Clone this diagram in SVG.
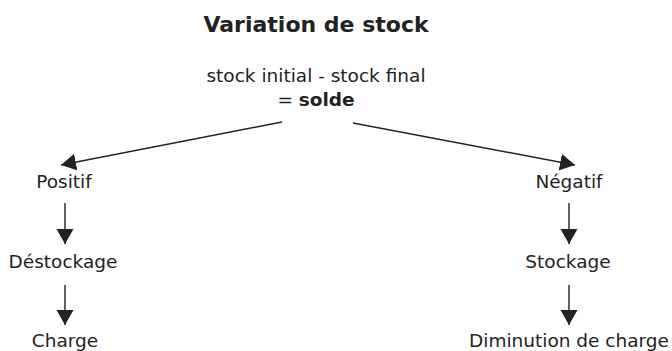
<svg xmlns="http://www.w3.org/2000/svg" width="672" height="351" viewBox="0 0 672 351">
<style>
text{font-family:"DejaVu Sans","Noto Sans","Liberation Sans",sans-serif;fill:#222;text-anchor:middle}
.t{font-size:22px;font-weight:bold}
.n{font-size:18.5px}
.c{stroke:#222;stroke-width:1.4;fill:none}
</style>
<defs>
<marker id="ah" markerUnits="userSpaceOnUse" markerWidth="16" markerHeight="18" refX="15" refY="8.5" orient="auto">
<path d="M0,0 L15,8.5 L0,17 Z" fill="#222"/>
</marker>
</defs>
<rect width="672" height="351" fill="#fff"/>
<text class="t" x="316" y="32">Variation de stock</text>
<g id="root">
<text class="n" x="316" y="82">stock initial - stock final</text>
<text class="n" x="316" y="106">= <tspan font-weight="bold">solde</tspan></text>
</g>
<g id="positif"><text class="n" x="64" y="188">Positif</text></g>
<g id="destockage"><text class="n" x="63" y="268">Déstockage</text></g>
<g id="charge"><text class="n" x="65" y="347">Charge</text></g>
<g id="negatif"><text class="n" x="569" y="188">Négatif</text></g>
<g id="stockage"><text class="n" x="568" y="268">Stockage</text></g>
<g id="diminution"><text class="n" x="569" y="347">Diminution de charge</text></g>
<g id="connectors">
<line class="c" x1="282" y1="122" x2="61" y2="165" marker-end="url(#ah)"/>
<line class="c" x1="353" y1="123" x2="575" y2="165" marker-end="url(#ah)"/>
<line class="c" x1="65" y1="203" x2="65" y2="244" marker-end="url(#ah)"/>
<line class="c" x1="65" y1="285" x2="65" y2="325" marker-end="url(#ah)"/>
<line class="c" x1="569" y1="203" x2="569" y2="244" marker-end="url(#ah)"/>
<line class="c" x1="569" y1="285" x2="569" y2="325" marker-end="url(#ah)"/>
</g>
</svg>
